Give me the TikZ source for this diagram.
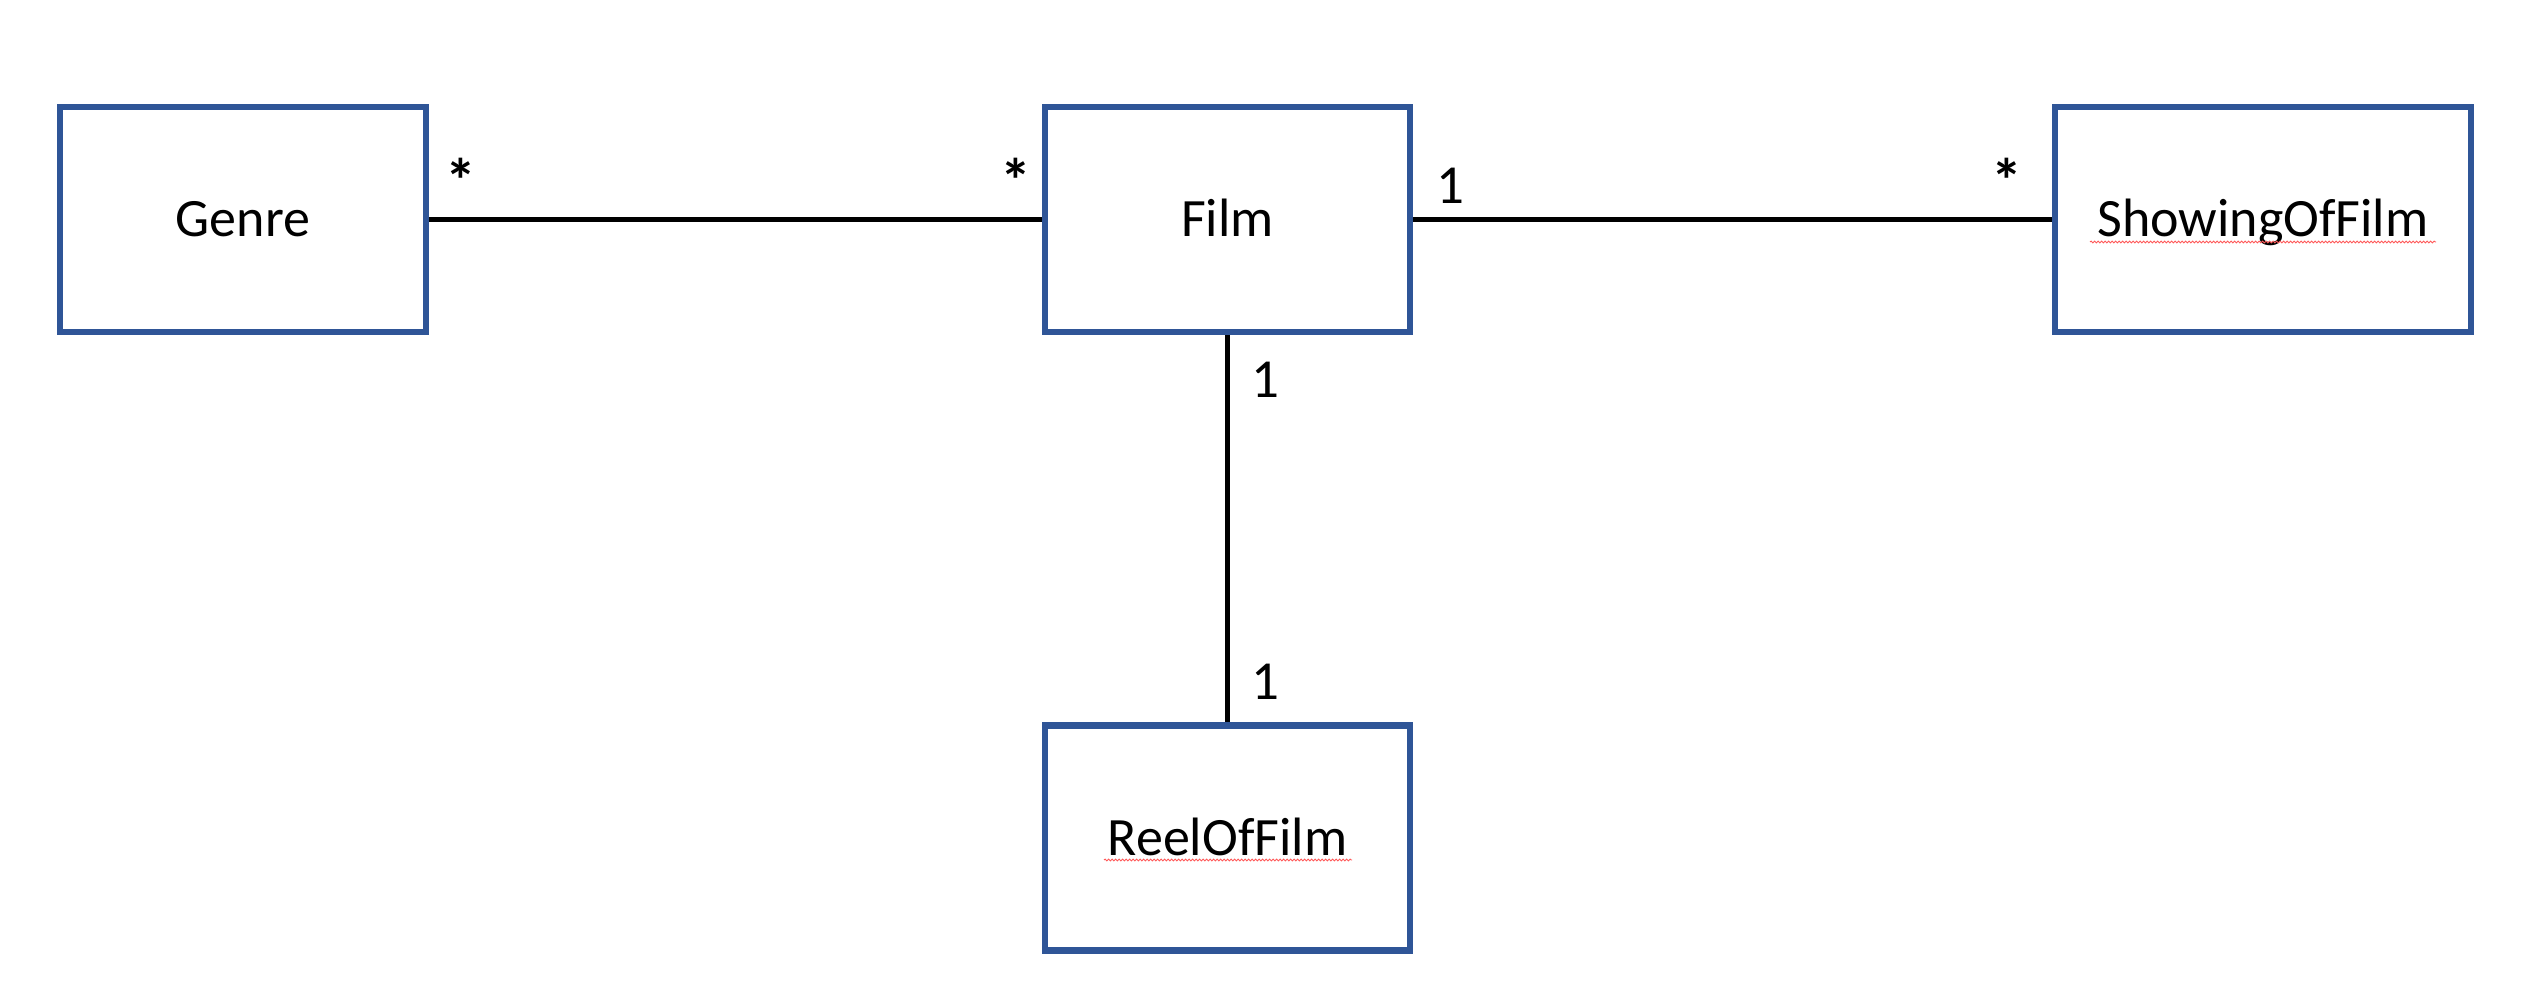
\documentclass[tikz,border=0pt]{standalone}
\usepackage{fontspec}
\setmainfont{Carlito}
\usetikzlibrary{decorations.pathmorphing}
\definecolor{boxblue}{HTML}{2F5597}
\tikzset{
  classbox/.style={draw=boxblue, line width=6.5pt, fill=white, minimum height=225pt,
    font=\fontsize{54}{64}\selectfont, text height=34.8pt, text depth=0pt, inner sep=0pt},
  conn/.style={draw=black, line width=4.5pt},
  mult/.style={font=\fontsize{55}{66}\selectfont, anchor=base, inner sep=0pt},
  star/.style={font=\fontsize{62}{72}\selectfont\bfseries, anchor=base, inner sep=0pt},
  squig/.style={draw=red!65, line width=0.9pt, decorate,
    decoration={snake, amplitude=0.9pt, segment length=3.5pt}}
}
\begin{document}
\begin{tikzpicture}[x=1pt,y=-1pt]
\useasboundingbox[fill=white] (0,0) rectangle (2536,1006);
% classes
\node[classbox, minimum width=366pt] (genre) at (243,219.5) {Genre};
\node[classbox, minimum width=365pt] (film) at (1227.5,219.5) {Film};
\node[classbox, minimum width=416pt] (showing) at (2263,219.5) {ShowingOfFilm};
\node[classbox, minimum width=365pt] (reel) at (1227.5,838) {ReelOfFilm};
% associations
\draw[conn] (genre.east) -- (film.west);
\draw[conn] (film.east) -- (showing.west);
\draw[conn] (film.south) -- (reel.north);
% multiplicities
\node[star] (mga) at (461,202) {*};
\node[star] (mfg) at (1016,202) {*};
\node[mult] (mfs) at (1450,203) {1};
\node[star] (msf) at (2007,202) {*};
\node[mult] (mfr) at (1265,397) {1};
\node[mult] (mrf) at (1265,699) {1};
% spell-check underlines
\draw[squig] (2090,242) -- (2436,242);
\draw[squig] (1104,860) -- (1352,860);
\end{tikzpicture}
\end{document}
